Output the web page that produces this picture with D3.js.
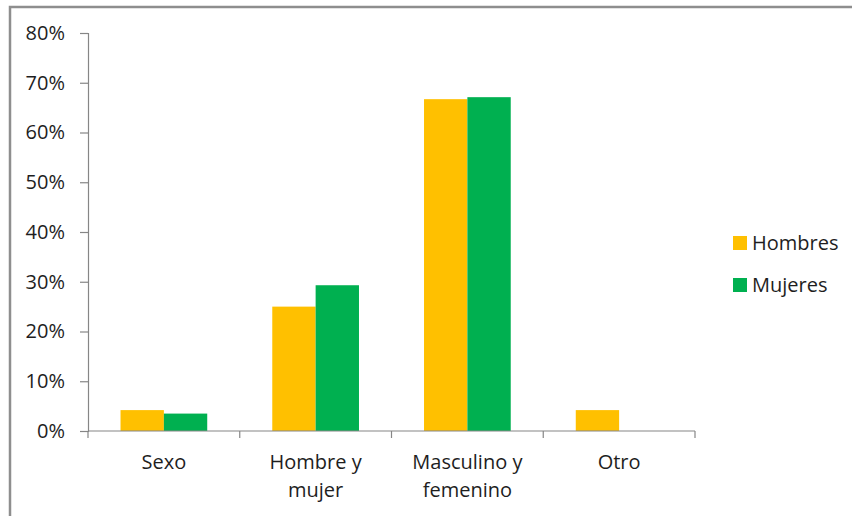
<!DOCTYPE html>
<html>
<head>
<meta charset="utf-8">
<script src="https://cdn.jsdelivr.net/npm/d3@7"></script>
<style>
  html, body { margin: 0; padding: 0; background: #fff; }
  svg { display: block; }
  text { font-family: "Open Sans", "Noto Sans", sans-serif; fill: #1e1e1e; }
</style>
</head>
<body>
<svg id="chart" width="852" height="516"></svg>
<script>
// Categories (label lines) and series values, as fractions
const categories = ["Sexo", "Hombre y mujer", "Masculino y femenino", "Otro"];
const categoryLines = [["Sexo"], ["Hombre y", "mujer"], ["Masculino y", "femenino"], ["Otro"]];
const seriesNames = ["Hombres", "Mujeres"];
const hombres = [0.042, 0.25, 0.667, 0.042];
const mujeres = [0.035, 0.293, 0.671, 0];
const seriesColors = ["#FFC000", "#00B050"];
const yTicks = [0, 0.1, 0.2, 0.3, 0.4, 0.5, 0.6, 0.7, 0.8];

const seriesValues = [hombres, mujeres];
const rows = categories.map((c, i) => ({
  cat: c,
  vals: seriesNames.map((s, j) => ({ series: s, value: seriesValues[j][i], color: seriesColors[j] }))
}));

const svg = d3.select("#chart");
const FS = "20px";

// Outer chart frame
svg.append("rect")
  .attr("x", 10).attr("y", 7)
  .attr("width", 900).attr("height", 600)
  .attr("fill", "none")
  .attr("stroke", "#8e8e8e")
  .attr("stroke-width", 2.5);

const plot = { left: 88, right: 695, top: 33, bottom: 431 };

const x0 = d3.scaleBand().domain(categories).range([plot.left, plot.right]);
const bw = x0.bandwidth();
// Gap width of 150%: two bars take 2/3.5 of the band
const x1 = d3.scaleBand().domain(seriesNames)
  .range([bw * 0.75 / 3.5, bw - bw * 0.75 / 3.5]);
const y = d3.scaleLinear().domain([0, 0.8]).range([plot.bottom, plot.top]);

// Bars
const groups = svg.append("g").selectAll("g")
  .data(rows).join("g")
  .attr("transform", d => `translate(${x0(d.cat)},0)`);
groups.selectAll("rect")
  .data(d => d.vals.filter(v => v.value > 0))
  .join("rect")
  .attr("x", d => x1(d.series))
  .attr("width", x1.bandwidth())
  .attr("y", d => y(d.value))
  .attr("height", d => y(0) - y(d.value))
  .attr("fill", d => d.color);

// Y axis
const yAxis = d3.axisLeft(y)
  .tickValues(yTicks)
  .tickFormat(d3.format(".0%"))
  .tickSize(8)
  .tickPadding(15);
const gy = svg.append("g")
  .attr("transform", `translate(${plot.left},0)`)
  .call(yAxis);
gy.select(".domain").attr("stroke", "#868686").attr("stroke-width", 1.2);
gy.selectAll(".tick line").attr("stroke", "#868686").attr("stroke-width", 1.2);
gy.selectAll(".tick text")
  .attr("font-size", FS)
  .attr("font-family", "'Open Sans', 'Noto Sans', sans-serif")
  .attr("fill", "#1e1e1e");

// X axis: tick marks at category boundaries
const gx = svg.append("g");
gx.append("line")
  .attr("x1", plot.left).attr("x2", plot.right)
  .attr("y1", plot.bottom).attr("y2", plot.bottom)
  .attr("stroke", "#868686").attr("stroke-width", 1.2);
const boundaries = categories.map(c => x0(c)).concat([x0(categories[categories.length - 1]) + bw]);
gx.selectAll("line.tk")
  .data(boundaries)
  .join("line")
  .attr("class", "tk")
  .attr("x1", d => d).attr("x2", d => d)
  .attr("y1", plot.bottom).attr("y2", plot.bottom + 7)
  .attr("stroke", "#868686").attr("stroke-width", 1.2);

// Category labels
const labels = gx.selectAll("text.cat")
  .data(categories)
  .join("text")
  .attr("class", "cat")
  .attr("text-anchor", "middle")
  .attr("font-size", FS)
  .attr("x", d => x0(d) + bw / 2)
  .attr("y", 469);
labels.each(function(d, i) {
  const t = d3.select(this);
  categoryLines[i].forEach((line, k) => {
    t.append("tspan")
      .attr("x", x0(d) + bw / 2)
      .attr("dy", k === 0 ? 0 : 28)
      .text(line);
  });
});

// Legend
const legend = svg.append("g");
const li = legend.selectAll("g")
  .data(seriesNames)
  .join("g")
  .attr("transform", (d, i) => `translate(733,${236 + i * 42})`);
li.append("rect")
  .attr("width", 14).attr("height", 14)
  .attr("fill", (d, i) => seriesColors[i]);
li.append("text")
  .attr("x", 19).attr("y", 7)
  .attr("dy", "0.35em")
  .attr("font-size", FS)
  .text(d => d);
</script>
</body>
</html>
